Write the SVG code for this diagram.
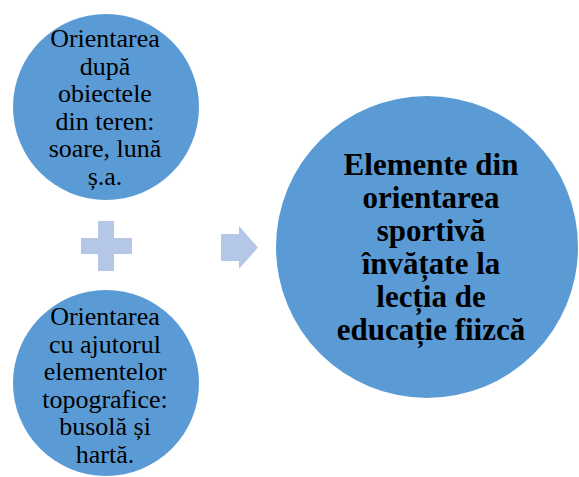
<svg xmlns="http://www.w3.org/2000/svg" width="579" height="477" viewBox="0 0 579 477">
<style>
.c{fill:#5b9bd5}
.s{fill:#b4c7e7}
.t{font-family:"Liberation Serif","Times New Roman",serif;font-size:26px;fill:#000;text-anchor:middle}
.b{font-family:"Liberation Serif","Times New Roman",serif;font-size:31px;font-weight:bold;fill:#000;text-anchor:middle}
</style>
<rect width="579" height="477" fill="#fff"/>
<g id="node-top">
<circle class="c" cx="106" cy="107" r="93"/>
<text class="t"><tspan x="105" y="47">Orientarea</tspan><tspan x="105" y="74.5">după</tspan><tspan x="105" y="102">obiectele</tspan><tspan x="105" y="129.5">din teren:</tspan><tspan x="105" y="157">soare, lună</tspan><tspan x="105" y="184.5">ș.a.</tspan></text>
</g>
<g id="node-bottom">
<circle class="c" cx="106" cy="383" r="93"/>
<text class="t"><tspan x="105" y="325">Orientarea</tspan><tspan x="105" y="352.5">cu ajutorul</tspan><tspan x="105" y="380">elementelor</tspan><tspan x="105" y="407.5">topografice:</tspan><tspan x="105" y="435">busolă și</tspan><tspan x="105" y="462.5">hartă.</tspan></text>
</g>
<g id="node-result">
<circle class="c" cx="427" cy="247" r="151"/>
<text class="b"><tspan x="431" y="175">Elemente din</tspan><tspan x="431" y="208">orientarea</tspan><tspan x="431" y="241">sportivă</tspan><tspan x="431" y="274">învățate la</tspan><tspan x="431" y="307">lecția de</tspan><tspan x="431" y="340">educație fiizcă</tspan></text>
</g>
<g id="connectors">
<path id="plus" class="s" d="M98 221H114V238H132V254H114V271H98V254H81V238H98Z"/>
<path id="arrow" class="s" d="M221 234H239V226L258 247.5L239 269V261H221Z"/>
</g>
</svg>
